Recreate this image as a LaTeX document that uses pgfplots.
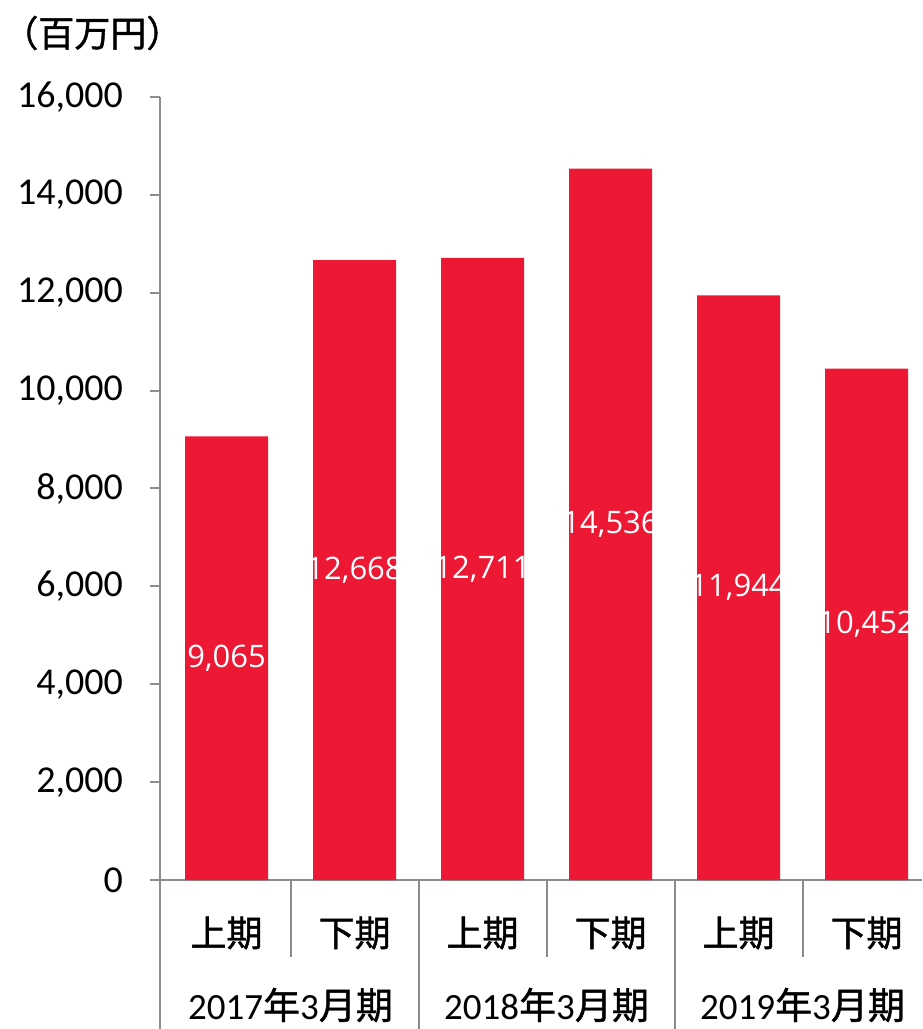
\documentclass[border=0pt]{standalone}
\usepackage{pgfplots}
\pgfplotsset{compat=1.18}
\usepackage{pgfplotstable}
\usepackage{fontspec}
\setmainfont{Carlito}
\newfontfamily\jp[FakeBold=1.2]{Noto Sans CJK JP}
\newfontfamily\lab{Open Sans}
\definecolor{barred}{HTML}{EC1834}
\definecolor{axgray}{HTML}{8C8C8C}
\pgfplotstableread{
x v lbl
0 9065 9,065
1 12668 12,668
2 12711 12,711
3 14536 14,536
4 11944 11,944
5 10452 10,452
}\data
\begin{document}
\begin{tikzpicture}
\path[use as bounding box] (-80pt,-74.5pt) rectangle (381pt,440pt);
\begin{axis}[at={(0,0)}, anchor=south west, scale only axis, width=381pt, height=391.5pt,
 xmin=-0.52, xmax=5.433, ymin=0, ymax=16000,
 axis x line=bottom, axis y line=left, axis line style={axgray, line width=1pt, -},
 xtick=\empty, ytick={0,2000,...,16000}, tick align=outside, major tick length=5pt,
 tick style={axgray, line width=1pt},
 yticklabel style={xshift=-10pt, font=\fontsize{19}{20}\selectfont, /pgf/number format/.cd, fixed, 1000 sep={,}, assume math mode=true},
 scaled y ticks=false, clip=false,
 ]
\addplot[ybar, bar width=41.5pt, fill=barred, draw=none] table[x=x,y=v]{\data};
\addplot[only marks, mark=*, mark size=0pt, mark options={draw=none,fill=none}, nodes near coords, point meta=explicit symbolic,
  every node near coord/.style={anchor=center, font=\lab\fontsize{15.5}{16}\selectfont, text=white}]
  table[x=x, y expr=\thisrow{v}/2, meta=lbl]{\data};
\draw[axgray, line width=1pt] (axis cs:-0.52,0) -- ([yshift=-74.5pt]axis cs:-0.52,0);
\draw[axgray, line width=1pt] (axis cs:1.5,0) -- ([yshift=-74.5pt]axis cs:1.5,0);
\draw[axgray, line width=1pt] (axis cs:3.5,0) -- ([yshift=-74.5pt]axis cs:3.5,0);
\draw[axgray, line width=1pt] (axis cs:0.5,0) -- ([yshift=-38.5pt]axis cs:0.5,0);
\draw[axgray, line width=1pt] (axis cs:2.5,0) -- ([yshift=-38.5pt]axis cs:2.5,0);
\draw[axgray, line width=1pt] (axis cs:4.5,0) -- ([yshift=-38.5pt]axis cs:4.5,0);
\node[font=\jp\fontsize{18}{20}\selectfont] at ([yshift=-26.5pt]axis cs:0,0) {上期};
\node[font=\jp\fontsize{18}{20}\selectfont] at ([yshift=-26.5pt]axis cs:1,0) {下期};
\node[font=\jp\fontsize{18}{20}\selectfont] at ([yshift=-26.5pt]axis cs:2,0) {上期};
\node[font=\jp\fontsize{18}{20}\selectfont] at ([yshift=-26.5pt]axis cs:3,0) {下期};
\node[font=\jp\fontsize{18}{20}\selectfont] at ([yshift=-26.5pt]axis cs:4,0) {上期};
\node[font=\jp\fontsize{18}{20}\selectfont] at ([yshift=-26.5pt]axis cs:5,0) {下期};
\node[font=\fontsize{18.5}{20}\selectfont] at ([yshift=-62.5pt]axis cs:0.5,0) {2017{\jp 年}3{\jp 月期}};
\node[font=\fontsize{18.5}{20}\selectfont] at ([yshift=-62.5pt]axis cs:2.5,0) {2018{\jp 年}3{\jp 月期}};
\node[font=\fontsize{18.5}{20}\selectfont] at ([yshift=-62.5pt]axis cs:4.5,0) {2019{\jp 年}3{\jp 月期}};
\end{axis}
\node[anchor=west, inner sep=0pt, font=\jp\fontsize{18}{20}\selectfont] at (-79pt,423.5pt) {（百万円）};
\end{tikzpicture}
\end{document}
